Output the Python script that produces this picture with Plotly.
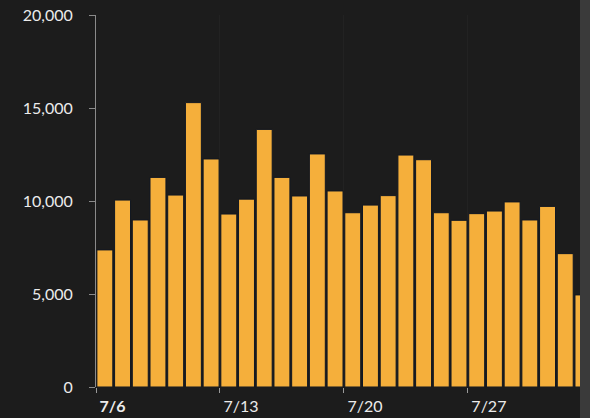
import plotly.graph_objects as go
import pandas as pd

dates = pd.date_range("2020-07-06", periods=28, freq="D")
values = [7370, 10050, 8980, 11270, 10320, 15290, 12260, 9300, 10100, 13850,
          11270, 10270, 12530, 10540, 9370, 9780, 10290, 12470, 12220, 9370,
          8960, 9320, 9460, 9950, 8980, 9710, 7170, 4950]
tick_dates = ["2020-07-06", "2020-07-13", "2020-07-20", "2020-07-27"]
tick_labels = ["<b>7/6</b>", "7/13", "7/20", "7/27"]
y_ticks = [0, 5000, 10000, 15000, 20000]

BG = "#1c1c1c"
SIDE = "#3a3a3a"
BAR = "#F5AF3B"
FONT = "Lato, 'Open Sans', Arial, sans-serif"

fig = go.Figure(go.Bar(
    x=dates, y=values,
    xperiod=86400000, xperiodalignment="middle",
    width=86400000 * 0.9,
    marker=dict(color=BAR, line=dict(width=1, color="#111722")),
))

fig.update_layout(
    width=580, height=418,
    margin=dict(l=96, r=0, t=15, b=31, autoexpand=False),
    paper_bgcolor=BG, plot_bgcolor=BG,
    showlegend=False,
    font=dict(family=FONT, size=16, color="#ebebeb"),
)

fig.update_xaxes(
    type="date", automargin=False,
    range=["2020-07-06 00:00", "2020-08-02 08:00"],
    tickvals=tick_dates, ticktext=tick_labels,
    ticks="outside", ticklen=5, tickcolor="#9a9a9a",
    showline=False, zeroline=False,
    showgrid=True, gridcolor="#222222", gridwidth=1,
    ticklabelposition="outside right", ticklabelshift=3,
    ticklabelstandoff=5,
    tickfont=dict(size=16, color="#ebebeb"),
)
fig.update_yaxes(
    automargin=False,
    range=[0, 20000],
    tickvals=y_ticks, tickformat=",",
    ticks="outside", ticklen=6, tickcolor="#8a8a8a",
    showline=True, linecolor="#8a8a8a", linewidth=1,
    showgrid=False, zeroline=False,
    ticklabelstandoff=13,
    tickfont=dict(size=16, color="#ebebeb"),
)

fig.write_html(
    "out.html",
    config={"displayModeBar": False},
    post_script=f"document.body.style.margin='0';document.body.style.background='{SIDE}';",
)
